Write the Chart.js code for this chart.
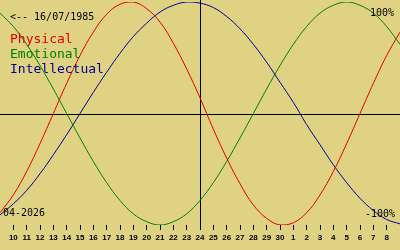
<!DOCTYPE html>
<html><head><meta charset="utf-8">
<script src="https://cdn.jsdelivr.net/npm/chart.js@4"></script>
<style>html,body{margin:0;padding:0;background:#e0d283;overflow:hidden}#wrap{width:400px;height:250px}</style>
</head><body><div id="wrap"><canvas id="c" width="400" height="250"></canvas></div>
<script>
const days = ['9','10','11','12','13','14','15','16','17','18','19','20','21','22','23','24','25','26','27','28','29','30','1','2','3','4','5','6','7','8','9'];
const physical = [-0.89,-0.73,-0.52,-0.27,0,0.27,0.52,0.73,0.89,0.98,1.00,0.94,0.82,0.63,0.40,0.14,-0.14,-0.40,-0.63,-0.82,-0.94,-1.00,-0.98,-0.89,-0.73,-0.52,-0.27,0,0.27,0.52,0.73];
const emotional = [0.90,0.78,0.62,0.43,0.22,0,-0.22,-0.43,-0.62,-0.78,-0.90,-0.97,-1.00,-0.97,-0.90,-0.78,-0.62,-0.43,-0.22,0,0.22,0.43,0.62,0.78,0.90,0.97,1.00,0.97,0.90,0.78,0.62];
const intellectual = [-0.91,-0.81,-0.69,-0.54,-0.37,-0.19,0,0.19,0.37,0.54,0.69,0.81,0.91,0.97,1.00,0.99,0.95,0.87,0.76,0.62,0.46,0.28,0.10,-0.10,-0.28,-0.46,-0.62,-0.76,-0.87,-0.95,-0.99];
const seriesNames = ['Physical','Emotional','Intellectual'];
const seriesColors = ['#e00000','#008000','#000090'];
const birthText = '<-- 16/07/1985';
const monthText = '04-2026';
const topText = '100%';
const bottomText = '-100%';
const centerDay = '24';

const axesPlugin = {
  id: 'axes',
  beforeDatasetsDraw(chart) {
    const {ctx, chartArea, scales} = chart;
    const y0 = Math.round(scales.y.getPixelForValue(0)) + 0.5;
    const xc = Math.round(scales.x.getPixelForValue(days.indexOf(centerDay))) + 0.5;
    ctx.save();
    ctx.strokeStyle = '#000';
    ctx.lineWidth = 1;
    ctx.beginPath();
    ctx.moveTo(chartArea.left, y0); ctx.lineTo(chartArea.right, y0);
    ctx.moveTo(xc, 0); ctx.lineTo(xc, chartArea.bottom);
    ctx.stroke();
    ctx.restore();
  },
  afterDraw(chart) {
    const ctx = chart.ctx;
    ctx.save();
    ctx.textBaseline = 'alphabetic';
    ctx.fillStyle = '#000';
    ctx.font = '10px "DejaVu Sans Mono"';
    ctx.textAlign = 'left';
    ctx.fillText(birthText, 10, 20);
    ctx.fillText(monthText, 3, 216);
    ctx.textAlign = 'right';
    ctx.fillText(topText, 394, 16);
    ctx.fillText(bottomText, 395, 217);
    ctx.textAlign = 'left';
    ctx.font = '13px "DejaVu Sans Mono"';
    const ys = [43, 58, 72.5];
    seriesNames.forEach((n, i) => { ctx.fillStyle = seriesColors[i]; ctx.fillText(n, 10, ys[i]); });
    ctx.restore();
  }
};

const mk = (label, data, color) => ({label, data, borderColor: color, borderWidth: 1, pointRadius: 0, pointHoverRadius: 0, pointBorderWidth: 0, tension: 0.4, fill: false});

new Chart(document.getElementById('c'), {
  type: 'line',
  data: {
    labels: days,
    datasets: [mk(seriesNames[0], physical, seriesColors[0]), mk(seriesNames[1], emotional, seriesColors[1]), mk(seriesNames[2], intellectual, seriesColors[2])]
  },
  options: {
    responsive: false,
    animation: false,
    layout: {autoPadding: false, padding: {top: 2, bottom: 4, left: 0, right: 0}},
    plugins: {legend: {display: false}, tooltip: {enabled: false}},
    scales: {
      x: {
        type: 'category',
        offset: false,
        border: {display: false},
        grid: {drawOnChartArea: false, drawTicks: true, tickLength: 5, tickWidth: 1,
               tickColor: (c) => (c.index === 0 || c.index === days.length - 1) ? 'rgba(0,0,0,0)' : '#000'},
        ticks: {autoSkip: false, maxRotation: 0, padding: 0, color: '#000',
                font: {family: '"Liberation Sans"', size: 8, weight: 'bold', lineHeight: 2},
                callback: function(v, i) { return (i === 0 || i === days.length - 1) ? '' : days[i]; }}
      },
      y: {display: false, min: -1, max: 1}
    }
  },
  plugins: [axesPlugin]
});
</script></body></html>
